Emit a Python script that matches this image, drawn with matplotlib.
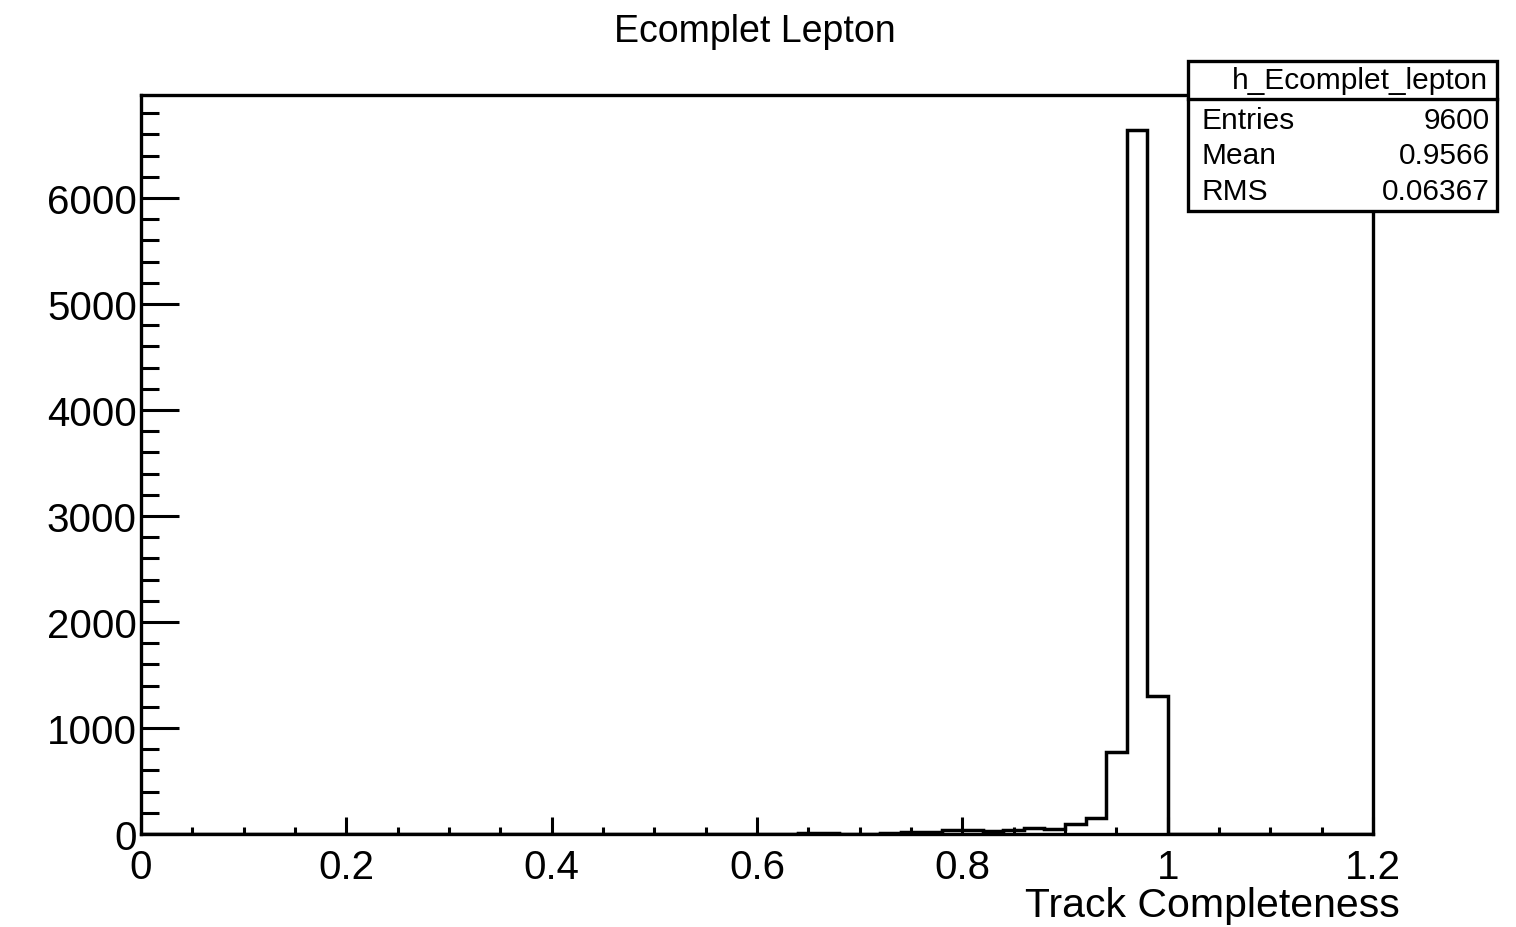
import numpy as np
import matplotlib.pyplot as plt
from matplotlib.patches import Rectangle
from matplotlib.ticker import MultipleLocator

plt.rcParams['font.family'] = ['Liberation Sans', 'DejaVu Sans']

# histogram: 60 bins from 0 to 1.2
edges = np.linspace(0, 1.2, 61)
counts = np.zeros(60)
low_bins = [32, 33, 34, 35, 36, 37, 38, 39, 40, 41, 42, 43, 44, 45, 46, 47, 48, 49]
low_vals = [10, 5, 3, 3, 5, 15, 20, 35, 40, 25, 35, 60, 50, 90, 150, 770, 6640, 1300]
counts[low_bins] = low_vals

hist_name = "h_Ecomplet_lepton"
stat_names = ["Entries", "Mean", "RMS"]
stat_vals = ["9600", "0.9566", "0.06367"]

fig = plt.figure(figsize=(15.16, 9.28), dpi=100)
ax = fig.add_axes([0.093, 0.1002, 0.8127, 0.7964])

ax.stairs(counts, edges, color='black', linewidth=2.5, baseline=0)

ax.set_xlim(0, 1.2)
ax.set_ylim(0, counts.max() * 1.05)

ax.xaxis.set_major_locator(MultipleLocator(0.2))
ax.xaxis.set_minor_locator(MultipleLocator(0.05))
ax.yaxis.set_major_locator(MultipleLocator(1000))
ax.yaxis.set_minor_locator(MultipleLocator(200))
ax.xaxis.set_major_formatter(plt.FuncFormatter(lambda v, p: f"{v:g}"))

ax.tick_params(axis='both', which='both', direction='in', width=2.2,
               top=False, right=False, labelsize=29)
ax.tick_params(axis='y', which='major', length=27, pad=3)
ax.tick_params(axis='y', which='minor', length=13)
ax.tick_params(axis='x', which='major', length=12, pad=10)
ax.tick_params(axis='x', which='minor', length=5)
for s in ax.spines.values():
    s.set_linewidth(2.4)

fig.text(0.498, 0.965, "Ecomplet Lepton", ha='center', va='center', fontsize=27)
fig.text(0.9235, 0.024, "Track Completeness", ha='right', va='center', fontsize=29.5)

# stats box
x0, x1 = 1188 / 1516, 1497 / 1516
y0, y1 = 1 - 212 / 928, 1 - 62 / 928
ysep = 1 - 100 / 928
fig.add_artist(Rectangle((x0, y0), x1 - x0, y1 - y0, transform=fig.transFigure,
                         facecolor='white', edgecolor='black', linewidth=2.4, zorder=5))
fig.add_artist(plt.Line2D([x0, x1], [ysep, ysep], transform=fig.transFigure,
                          color='black', linewidth=2.4, zorder=6))
fig.text(1488 / 1516, 1 - 81 / 928, hist_name, ha='right', va='center', fontsize=21.5, zorder=7)
for i, (n, v) in enumerate(zip(stat_names, stat_vals)):
    yy = 1 - (121 + 35.5 * i) / 928
    fig.text(1202 / 1516, yy, n, ha='left', va='center', fontsize=21.5, zorder=7)
    fig.text(1490 / 1516, yy, v, ha='right', va='center', fontsize=21.5, zorder=7)

fig.savefig("out.png", dpi=100)
